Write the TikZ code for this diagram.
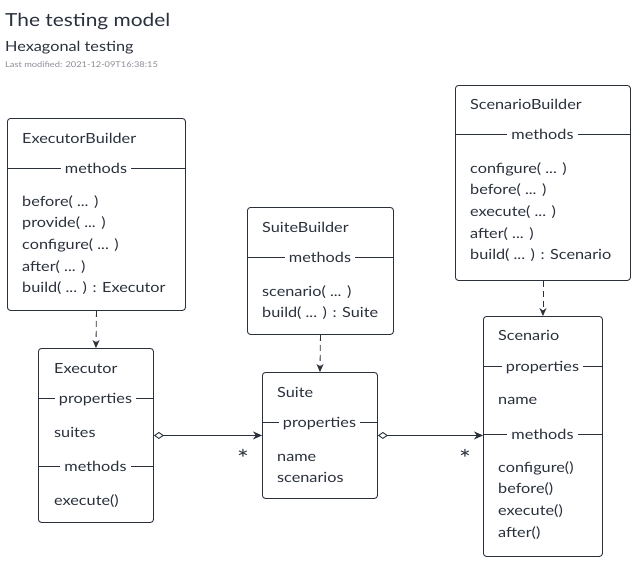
\documentclass[tikz,border=0pt]{standalone}
\usepackage{fontspec}
\setmainfont{Lato}[FakeStretch=1.16]
\usetikzlibrary{arrows.meta,calc}
\definecolor{ink}{HTML}{2A313C}
\definecolor{meta}{HTML}{8A8F96}
\newcommand\myell{...}
\tikzset{
  box/.style={draw=ink, line width=0.9pt, rounded corners=3pt,
    anchor=north west, inner sep=0pt},
  txt/.style={anchor=base west, inner sep=0pt, text=ink, font=\fontsize{14}{16}\selectfont},
  sepline/.style={draw=ink, line width=0.8pt},
  seplabel/.style={anchor=base, fill=white, inner xsep=4pt, inner ysep=1pt, text=ink, font=\fontsize{14}{16}\selectfont},
  dep/.style={draw=ink, line width=0.8pt, dash pattern=on 6pt off 4pt, -{Stealth[length=8pt,width=7pt]}},
  agg/.style={draw=ink, line width=0.9pt, {Diamond[open,length=10pt,width=7pt]}-{Stealth[length=9pt,width=8pt]}},
  mult/.style={anchor=base, inner sep=0pt, text=ink, font=\fontsize{24}{24}\selectfont},
}
\begin{document}
\begin{tikzpicture}[x=1pt,y=-1pt]
\fill[white] (0,0) rectangle (635,560);
\useasboundingbox (0,0) rectangle (635,560);

% titles
\node[anchor=base west, inner sep=0pt, text=ink, font=\fontsize{18}{21}\selectfont] (t1) at (5,26) {The testing model};
\node[anchor=base west, inner sep=0pt, text=ink, font=\fontsize{14}{17}\selectfont] (t2) at (5,51) {Hexagonal testing};
\node[anchor=base west, inner sep=0pt, text=meta, font=\fontsize{8}{10}\selectfont] (t3) at (5,67) {Last modified: 2021-12-09T16:38:15};

% ExecutorBuilder
\node[box, minimum width=178pt, minimum height=192pt] (eb) at (7,118) {};
\node[txt] (ebt) at (22,143.5) {ExecutorBuilder};
\draw[sepline] (7,168) -- (185,168);
\node[seplabel] (ebm) at (96,173) {methods};
\foreach \t [count=\i] in {before( \myell{} ),provide( \myell{} ),configure( \myell{} ),after( \myell{} ),build( \myell{} ) : Executor}
  \node[txt] (eb\i) at (22,{206+21.7*(\i-1)}) {\t};

% Executor
\node[box, minimum width=115pt, minimum height=174pt] (ex) at (38,348) {};
\node[txt] (ext) at (54,373.5) {Executor};
\draw[sepline] (38,398) -- (153,398);
\node[seplabel] (exp) at (95.5,403) {properties};
\node[txt] (ex1) at (54,437) {suites};
\draw[sepline] (38,466) -- (153,466);
\node[seplabel] (exm) at (95.5,471) {methods};
\node[txt] (ex2) at (54,505) {execute()};

% SuiteBuilder
\node[box, minimum width=146pt, minimum height=127pt] (sb) at (247,207) {};
\node[txt] (sbt) at (262,232.5) {SuiteBuilder};
\draw[sepline] (247,257) -- (393,257);
\node[seplabel] (sbm) at (320,262) {methods};
\node[txt] (sb1) at (262,296) {scenario( \myell{} )};
\node[txt] (sb2) at (262,317.5) {build( \myell{} ) : Suite};

% Suite
\node[box, minimum width=115pt, minimum height=126pt] (su) at (262,372) {};
\node[txt] (sut) at (277,397.5) {Suite};
\draw[sepline] (262,422) -- (377,422);
\node[seplabel] (sup) at (319.5,427) {properties};
\node[txt] (su1) at (277,461) {name};
\node[txt] (su2) at (277,482.5) {scenarios};

% ScenarioBuilder
\node[box, minimum width=175pt, minimum height=195pt] (cb) at (455,85) {};
\node[txt] (cbt) at (470,109.5) {ScenarioBuilder};
\draw[sepline] (455,134) -- (630,134);
\node[seplabel] (cbm) at (542.5,139) {methods};
\foreach \t [count=\i] in {configure( \myell{} ),before( \myell{} ),execute( \myell{} ),after( \myell{} ),build( \myell{} ) : Scenario}
  \node[txt] (cb\i) at (470,{173+21.7*(\i-1)}) {\t};

% Scenario
\node[box, minimum width=119pt, minimum height=240pt] (sc) at (483,316) {};
\node[txt] (sct) at (498,340.5) {Scenario};
\draw[sepline] (483,366) -- (602,366);
\node[seplabel] (scp) at (542.5,371) {properties};
\node[txt] (sc0) at (498,404) {name};
\draw[sepline] (483,434) -- (602,434);
\node[seplabel] (scm) at (542.5,439) {methods};
\foreach \t [count=\i] in {configure(),before(),execute(),after()}
  \node[txt] (sc\i) at (498,{472+21.7*(\i-1)}) {\t};

% dependencies
\draw[dep] (eb.south) -- (ex.north);
\draw[dep] (sb.south) -- (su.north);
\draw[dep] (cb.south) -- (sc.north);

% aggregations
\draw[agg] (su.west -| ex.east) -- (su.west);
\draw[agg] (su.east) -- (su.east -| sc.west);
\node[mult] (m1) at (243,467) {*};
\node[mult] (m2) at (465,467) {*};
\end{tikzpicture}
\end{document}
